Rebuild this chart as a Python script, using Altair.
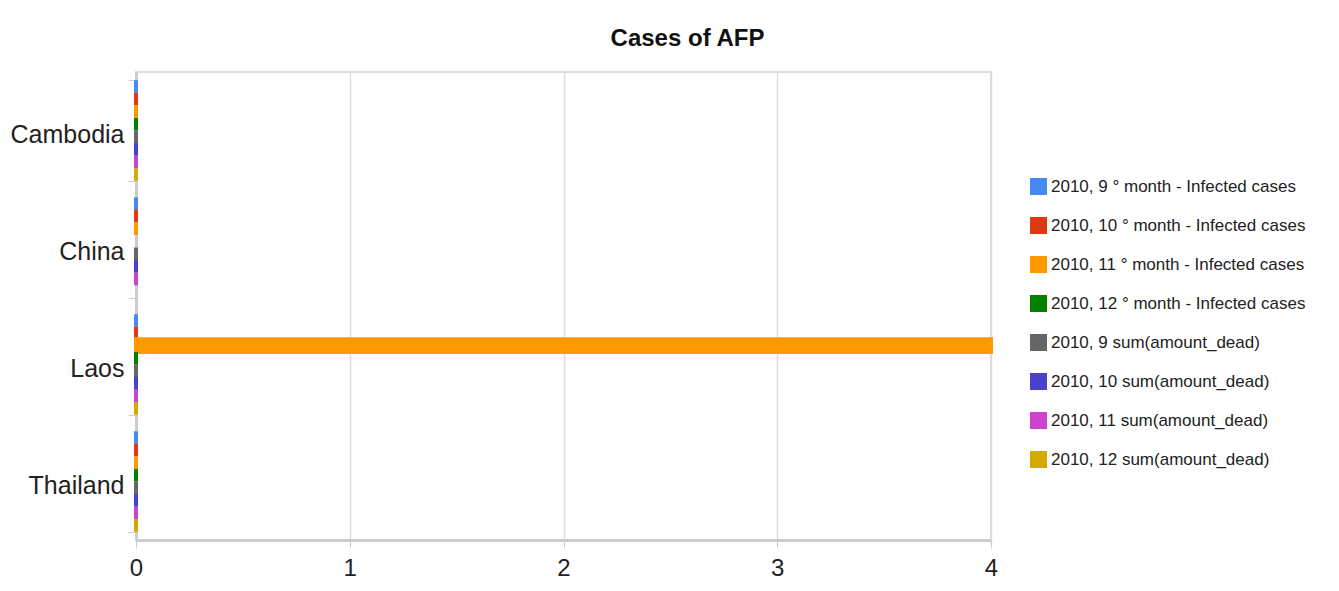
import altair as alt
import pandas as pd

countries = ["Cambodia", "China", "Laos", "Thailand"]
series = [
    "2010, 9 ° month - Infected cases",
    "2010, 10 ° month - Infected cases",
    "2010, 11 ° month - Infected cases",
    "2010, 12 ° month - Infected cases",
    "2010, 9 sum(amount_dead)",
    "2010, 10 sum(amount_dead)",
    "2010, 11 sum(amount_dead)",
    "2010, 12 sum(amount_dead)",
]
colors = ["#4689f0", "#dc3a12", "#ff9900", "#008000",
          "#666666", "#4a40cc", "#cc44cc", "#d4aa00"]

# values per series, in country order (None = no value)
inf_9 = [0, 0, 0, 0]
inf_10 = [0, 0, 0, 0]
inf_11 = [0, 0, 4, 0]
inf_12 = [0, None, 0, 0]
dead_9 = [0, 0, 0, 0]
dead_10 = [0, 0, 0, 0]
dead_11 = [0, 0, 0, 0]
dead_12 = [0, None, 0, 0]
x_ticks = [0, 1, 2, 3, 4]

all_vals = [inf_9, inf_10, inf_11, inf_12, dead_9, dead_10, dead_11, dead_12]
rows = []
for s, vals in zip(series, all_vals):
    for c, v in zip(countries, vals):
        if v is not None:
            rows.append({"country": c, "series": s, "value": v})
df = pd.DataFrame(rows)

font = "Liberation Sans"

chart = alt.Chart(df).mark_bar(strokeWidth=4, strokeOpacity=1).encode(
    x=alt.X("value:Q", title=None,
            scale=alt.Scale(domain=[0, 4], nice=False),
            axis=alt.Axis(values=x_ticks, format="d", labelFontSize=24, labelFont=font,
                          labelColor="#222", labelPadding=8, tickSize=8, tickColor="#cccccc",
                          domainColor="#cccccc", domainWidth=3, gridColor="#dddddd",
                          gridWidth=1.5, labelFlush=False)),
    y=alt.Y("country:N", title=None, sort=countries,
            scale=alt.Scale(paddingInner=0.14, paddingOuter=0.07),
            axis=alt.Axis(tickBand="extent", labelFontSize=25, labelFont=font,
                          labelColor="#222", labelPadding=4, labelOffset=4, tickSize=8,
                          tickColor="#cccccc", domainColor="#cccccc", domainWidth=3,
                          grid=False)),
    yOffset=alt.YOffset("series:N", sort=series,
                        scale=alt.Scale(domain=series, paddingInner=0, paddingOuter=0)),
    color=alt.Color("series:N", sort=series,
                    scale=alt.Scale(domain=series, range=colors),
                    legend=alt.Legend(title=None, orient="none", legendX=894, legendY=106,
                                      symbolType="square", symbolSize=289, symbolStrokeWidth=0,
                                      labelFontSize=17, labelFont=font, labelColor="#222",
                                      rowPadding=21, labelLimit=400)),
    stroke=alt.Color("series:N", sort=series,
                     scale=alt.Scale(domain=series, range=colors), legend=None),
).properties(
    width=855,
    height=468,
    title=alt.TitleParams("Cases of AFP", fontSize=24, fontWeight="bold", font=font,
                          color="#111", anchor="middle", dx=124, offset=9),
    autosize=alt.AutoSizeParams(type="none"),
    padding={"left": 128, "top": 64, "right": 330, "bottom": 40},
).configure_view(stroke="#dddddd", strokeWidth=2)

chart.save("out.html", embed_options={"renderer": "svg", "actions": False})
